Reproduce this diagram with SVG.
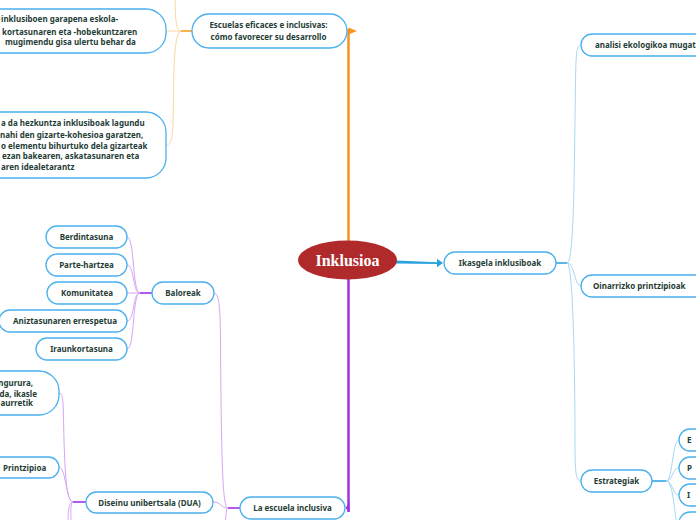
<svg xmlns="http://www.w3.org/2000/svg" width="696" height="520" viewBox="0 0 696 520">
<style>
.n{fill:#fff;stroke:#4ab0ee;stroke-width:1.3}
.t{font-family:"Noto Sans",sans-serif;font-weight:bold;font-size:8px;fill:#1f3d36}
.m{text-anchor:middle}
.e{text-anchor:end}
.lo{fill:none;stroke:#fdd6a2;stroke-width:1}
.do{fill:none;stroke:#f9a01b;stroke-width:1.6}
.lp{fill:none;stroke:#d5a6f4;stroke-width:1}
.dp{fill:none;stroke:#a030e6;stroke-width:1.6}
.lb{fill:none;stroke:#a6d8f5;stroke-width:1}
.db{fill:none;stroke:#2fa6e4;stroke-width:1.6}
</style>
<rect width="696" height="520" fill="#fff"/>
<g id="connectors">
  <line x1="348.5" y1="242" x2="348.5" y2="29" stroke="#f7931e" stroke-width="2.5"/>
  <path d="M348.5,27.5 L357,31 L348.5,34.5 Z" fill="#f7931e"/>
  <line x1="348.5" y1="279" x2="348.5" y2="512" stroke="#a12fe8" stroke-width="2.5"/>
  <path d="M349.5,502 L345.5,508 L349.5,512 Z" fill="#a12fe8"/>
  <path d="M396,260.6 L437,262.2 L437,264 L396,263.6 Z" fill="#29a3e0"/>
  <path d="M437,258.8 L443,263 L437,267.2 Z" fill="#29a3e0"/>
  <path class="do" d="M192,31 H181"/>
  <path class="lo" d="M181,31 C176,31 175,20 175,-10"/>
  <path class="lo" d="M181,31 H166"/>
  <path class="lo" d="M181,31 C172,31 174,100 173,125 C172,140 171,145 166,145"/>
  <path class="dp" d="M152,293 H140"/>
  <path class="lp" d="M140,293 C132,293 135,237 127,237"/>
  <path class="lp" d="M140,293 C132,293 135,265 127,265"/>
  <path class="lp" d="M140,293 H127"/>
  <path class="lp" d="M140,293 C132,293 135,321 127,321"/>
  <path class="lp" d="M140,293 C132,293 135,349 127,349"/>
  <path class="lp" d="M214,293 C222,293 220,330 221,400 C222,470 223,508 228,508"/>
  <path class="dp" d="M240,508 H228"/>
  <path class="lp" d="M228,508 C220,508 222,502 213,502"/>
  <path class="lp" d="M228,508 C226,508 226,515 225,530"/>
  <path class="dp" d="M86,502 H73"/>
  <path class="lp" d="M73,502 C66,502 66,467 59,467"/>
  <path class="lp" d="M73,502 C66,502 65,470 64,440 C63,405 64,393 59,393"/>
  <path class="lp" d="M73,502 C68,502 68,515 68,530"/>
  <path class="lp" d="M73,502 C70,502 71,515 71,530"/>
  <path class="db" d="M556,263 H567"/>
  <path class="lb" d="M567,263 C573,263 574,200 575,120 C576,60 575,45 581,45"/>
  <path class="lb" d="M567,263 C575,263 574,286 581,286"/>
  <path class="lb" d="M567,263 C574,263 575,400 575,440 C575,475 576,481 581,481"/>
  <path class="db" d="M652,481 H666"/>
  <path class="lb" d="M666,481 C673,481 672,440 679,440"/>
  <path class="lb" d="M666,481 C673,481 672,468 679,468"/>
  <path class="lb" d="M666,481 C673,481 672,495 679,495"/>
  <path class="lb" d="M666,481 C673,481 674,510 677,525"/>
</g>
<g id="root">
  <ellipse cx="347.5" cy="260" rx="49.5" ry="19.5" fill="#b02a2c"/>
  <text x="347.5" y="266" text-anchor="middle" font-family="Liberation Serif,serif" font-weight="bold" font-size="16" fill="#fff">Inklusioa</text>
</g>
<g id="escuelas-eficaces">
  <rect class="n" x="192" y="14" width="155" height="34" rx="17"/>
  <text class="t m" x="268.5" y="28">Escuelas eficaces e inclusivas:</text>
  <text class="t m" x="268.5" y="39.5">cómo favorecer su desarrollo</text>
</g>
<g id="node-eskola">
  <rect class="n" x="-100" y="9" width="266" height="44" rx="20"/>
  <text class="t" x="1" y="22">inklusiboen garapena eskola-</text>
  <text class="t" x="2" y="34.5">kortasunaren eta -hobekuntzaren</text>
  <text class="t" x="5" y="45">mugimendu gisa ulertu behar da</text>
</g>
<g id="node-hezkuntza">
  <rect class="n" x="-100" y="112" width="266" height="66" rx="20"/>
  <text class="t" x="1" y="126">a da hezkuntza inklusiboak lagundu</text>
  <text class="t" x="0" y="137.5">nahi den gizarte-kohesioa garatzen,</text>
  <text class="t" x="1" y="148.5">o elementu bihurtuko dela gizarteak</text>
  <text class="t" x="2" y="159">ezan bakearen, askatasunaren eta</text>
  <text class="t" x="1" y="169.5">aren idealetarantz</text>
</g>
<g id="baloreak">
  <rect class="n" x="152" y="282" width="62" height="22" rx="11"/>
  <text class="t m" x="183" y="296">Baloreak</text>
</g>
<g id="berdintasuna">
  <rect class="n" x="46" y="226" width="81" height="22" rx="11"/>
  <text class="t m" x="86.5" y="240">Berdintasuna</text>
</g>
<g id="parte-hartzea">
  <rect class="n" x="46" y="254" width="81" height="22" rx="11"/>
  <text class="t m" x="86.5" y="268">Parte-hartzea</text>
</g>
<g id="komunitatea">
  <rect class="n" x="47" y="282" width="80" height="22" rx="11"/>
  <text class="t m" x="87" y="296">Komunitatea</text>
</g>
<g id="aniztasuna">
  <rect class="n" x="-1" y="310" width="128" height="22" rx="11"/>
  <text class="t m" x="65" y="324">Aniztasunaren errespetua</text>
</g>
<g id="iraunkortasuna">
  <rect class="n" x="36" y="338" width="91" height="22" rx="11"/>
  <text class="t m" x="81.5" y="352">Iraunkortasuna</text>
</g>
<g id="node-ingurura">
  <rect class="n" x="-100" y="371" width="159" height="44" rx="20"/>
  <text class="t e" x="33" y="386">ngurura,</text>
  <text class="t e" x="37" y="396.5">da, ikasle</text>
  <text class="t e" x="33" y="406">aurretik</text>
</g>
<g id="printzipioa">
  <rect class="n" x="-30" y="457" width="89" height="21" rx="10.5"/>
  <text class="t" x="3" y="470.5">Printzipioa</text>
</g>
<g id="diseinu">
  <rect class="n" x="86" y="492" width="127" height="21" rx="10.5"/>
  <text class="t m" x="149.5" y="505.5">Diseinu unibertsala (DUA)</text>
</g>
<g id="la-escuela">
  <rect class="n" x="240" y="497" width="105" height="22" rx="11"/>
  <text class="t m" x="292.5" y="511">La escuela inclusiva</text>
</g>
<g id="ikasgela">
  <rect class="n" x="444" y="252" width="112" height="22" rx="11"/>
  <text class="t m" x="500" y="266">Ikasgela inklusiboak</text>
</g>
<g id="analisi">
  <rect class="n" x="581" y="34" width="200" height="22" rx="11"/>
  <text class="t" x="595" y="48">analisi ekologikoa mugat</text>
</g>
<g id="oinarrizko">
  <rect class="n" x="581" y="275" width="200" height="22" rx="11"/>
  <text class="t" x="593" y="289">Oinarrizko printzipioak</text>
</g>
<g id="estrategiak">
  <rect class="n" x="581" y="470" width="71" height="22" rx="11"/>
  <text class="t m" x="616.5" y="484">Estrategiak</text>
</g>
<g id="estrategia-e">
  <rect class="n" x="679" y="429" width="60" height="22" rx="11"/>
  <text class="t" x="687" y="443">E</text>
</g>
<g id="estrategia-p">
  <rect class="n" x="679" y="457" width="60" height="22" rx="11"/>
  <text class="t" x="687" y="471">P</text>
</g>
<g id="estrategia-i">
  <rect class="n" x="679" y="484" width="60" height="22" rx="11"/>
  <text class="t" x="687" y="498">I</text>
</g>
<g id="estrategia-4">
  <rect class="n" x="679" y="512" width="60" height="22" rx="11"/>
</g>
</svg>
